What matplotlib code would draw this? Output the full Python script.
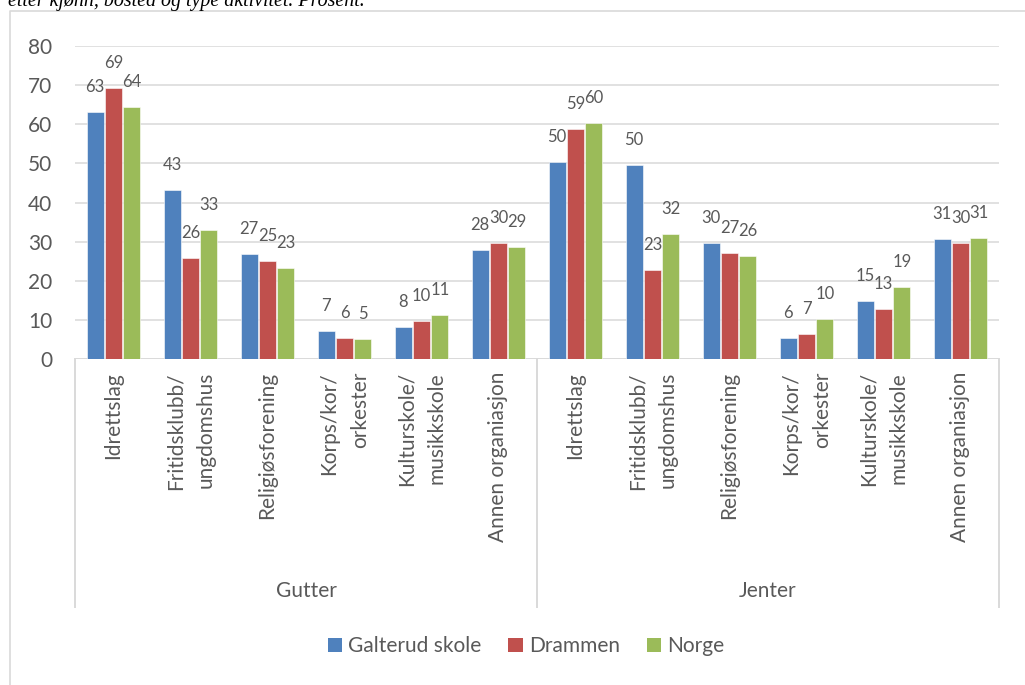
import matplotlib
matplotlib.use("Agg")
import matplotlib.pyplot as plt
from matplotlib.lines import Line2D
from matplotlib.patches import Patch
from matplotlib.transforms import blended_transform_factory
import numpy as np

# ---- data ----
groups = ["Gutter", "Jenter"]
activities = ["Idrettslag", "Fritidsklubb/\nungdomshus", "Religiøsforening",
              "Korps/kor/\norkester", "Kulturskole/\nmusikkskole", "Annen organiasjon"]
series_names = ["Galterud skole", "Drammen", "Norge"]
galterud = [63.0, 43.3, 26.8, 7.3, 8.3, 28.0,
            50.4, 49.7, 29.6, 5.6, 14.8, 30.6]
drammen = [69.2, 26.0, 25.0, 5.6, 9.8, 29.6,
           58.7, 22.9, 27.1, 6.6, 13.0, 29.6]
norge = [64.4, 33.1, 23.3, 5.2, 11.4, 28.6,
         60.4, 31.9, 26.3, 10.4, 18.6, 31.0]
yticks = [0, 10, 20, 30, 40, 50, 60, 70, 80]
caption = "etter kjønn, bosted og type aktivitet. Prosent."

colors = ["#4F81BD", "#C0504D", "#9BBB59"]
txt_color = "#595959"
grid_color = "#D9D9D9"
FONT = ["Lato", "DejaVu Sans"]
plt.rcParams["font.family"] = FONT

W, H = 1025, 685
fig = plt.figure(figsize=(W / 100, H / 100), dpi=100)

def fx(px):
    return px / W

def fy(py):
    return 1 - py / H

ax_left, ax_right, ax_top, ax_bot = 75, 999, 45.7, 359.5
ax = fig.add_axes([fx(ax_left), fy(ax_bot), fx(ax_right - ax_left), (ax_bot - ax_top) / H])

n_cat = len(groups) * len(activities)
x = np.arange(n_cat)
step = 0.238
width = 0.217
all_series = [galterud, drammen, norge]
for k, (vals, col, name) in enumerate(zip(all_series, colors, series_names)):
    xs = x + (k - 1) * step
    ax.bar(xs, vals, width=width, color=col, edgecolor="white", linewidth=0.4, zorder=3, label=name)
    for xi, v in zip(xs, vals):
        ax.annotate(f"{v:.0f}", xy=(xi, v), xytext=(0, 18), textcoords="offset points",
                    ha="center", va="center", fontsize=12, color=txt_color, zorder=4)

ax.set_xlim(-0.5, n_cat - 0.5)
ax.set_ylim(0, 80)
ax.set_yticks(yticks)
ax.set_yticklabels([str(t) for t in yticks])
ax.tick_params(axis="y", length=0, pad=16.5, labelsize=15, labelcolor=txt_color)
ax.set_xticks([])
for s in ax.spines.values():
    s.set_visible(False)
ax.yaxis.grid(True, color=grid_color, linewidth=1.1, zorder=0)
ax.set_axisbelow(True)
ax.axhline(0, color=grid_color, linewidth=1.1, zorder=2)

# category labels (two-level axis)
tr = blended_transform_factory(ax.transData, fig.transFigure)
cats = activities * len(groups)
for xi, lab in zip(x, cats):
    ax.text(xi, fy(372), lab, transform=tr, rotation=90, ha="center", va="top",
            multialignment="right", fontsize=15, color=txt_color, linespacing=1.65)
n_act = len(activities)
for gi, g in enumerate(groups):
    cx = gi * n_act + (n_act - 1) / 2
    ax.text(cx, fy(591), g, transform=tr, ha="center", va="center", fontsize=15, color=txt_color)
for bx in [-0.5 + gi * n_act for gi in range(len(groups) + 1)]:
    ax.add_line(Line2D([bx, bx], [fy(359.5), fy(607)], transform=tr, color=grid_color,
                       linewidth=1.4, clip_on=False))

# legend
handles = [Patch(facecolor=c, edgecolor="none") for c in colors]
fig.legend(handles, series_names, loc="center", bbox_to_anchor=(fx(526), fy(646)), ncol=3,
           frameon=False, fontsize=15, labelcolor=txt_color, handlelength=0.68, handleheight=0.68,
           handletextpad=0.3, columnspacing=1.3)

# outer chart border (left and top visible)
fig.add_artist(Line2D([fx(9.7), fx(9.7), 1.0], [0.0, fy(10.7), fy(10.7)], transform=fig.transFigure,
                      color=grid_color, linewidth=1.2))

# cropped caption at top
fig.text(fx(8), fy(6), caption, ha="left", va="baseline", fontsize=14.4,
         family=["Liberation Serif", "DejaVu Serif"], style="italic", color="black")

fig.savefig("out.png", dpi=100)
